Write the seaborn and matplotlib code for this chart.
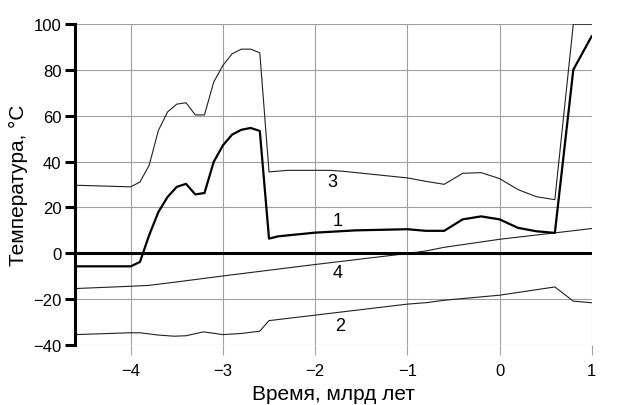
import matplotlib
matplotlib.use("Agg")
import matplotlib.pyplot as plt
import pandas as pd
import seaborn as sns

# Curve 1 (thick)
x1 = [-4.6, -4.0, -3.9, -3.8, -3.7, -3.6, -3.5, -3.4, -3.3, -3.2, -3.1, -3.0,
      -2.9, -2.8, -2.7, -2.6, -2.5, -2.4, -2.0, -1.56, -1.0, -0.8, -0.6,
      -0.4, -0.2, 0.0, 0.2, 0.4, 0.6, 0.8, 1.0]
y1 = [-5.7, -5.7, -3.8, 7.9, 18.0, 24.6, 29.0, 30.3, 25.7, 26.3, 39.9, 47.1,
      51.8, 53.9, 54.7, 53.4, 6.4, 7.4, 9.0, 10.0, 10.5, 9.8, 9.8,
      14.8, 16.1, 14.8, 11.1, 9.6, 8.9, 80.1, 94.8]

# Curve 3 (thin, upper)
x3 = [-4.6, -4.0, -3.9, -3.8, -3.7, -3.6, -3.5, -3.4, -3.3, -3.2, -3.1, -3.0,
      -2.9, -2.8, -2.7, -2.6, -2.5, -2.3, -1.84, -1.7, -1.0, -0.8, -0.6,
      -0.4, -0.2, 0.0, 0.2, 0.4, 0.6, 0.8, 1.0]
y3 = [29.7, 29.0, 31.1, 38.4, 53.6, 61.7, 65.1, 65.7, 60.4, 60.4, 74.7, 82.0,
      87.1, 89.1, 89.1, 87.5, 35.5, 36.2, 36.2, 35.8, 32.9, 31.4, 30.1,
      34.9, 35.2, 32.6, 27.8, 24.7, 23.4, 100.0, 100.0]

# Curve 4 (thin, rising)
x4 = [-4.6, -4.0, -3.8, -3.5, -3.0, -2.5, -2.0, -1.0, -0.8, -0.6, 0.0, 0.6, 1.0]
y4 = [-15.4, -14.4, -14.0, -12.5, -9.9, -7.4, -4.9, -0.1, 1.0, 2.6, 6.1, 8.9, 10.8]

# Curve 2 (thin, bottom)
x2 = [-4.6, -4.0, -3.9, -3.7, -3.53, -3.4, -3.21, -3.0, -2.8, -2.6, -2.5,
      -2.0, -1.0, -0.78, -0.6, 0.0, 0.6, 0.8, 1.0]
y2 = [-35.5, -34.7, -34.7, -35.7, -36.2, -36.0, -34.3, -35.5, -35.0, -34.0, -29.4,
      -27.0, -22.2, -21.5, -20.5, -18.3, -14.7, -20.9, -21.6]

curve_labels = ["1", "2", "3", "4"]
label_x = [-1.76, -1.73, -1.81, -1.76]
label_y = [14.4, -31.4, 31.4, -8.4]

sns.set_style("white", {"xtick.bottom": True, "ytick.left": True,
                        "text.color": "black", "axes.labelcolor": "black",
                        "xtick.color": "black", "ytick.color": "black"})
plt.rcParams["font.family"] = ["Liberation Sans", "DejaVu Sans"]

fig, ax = plt.subplots(figsize=(6.18, 4.06), dpi=100)
fig.subplots_adjust(left=0.122, right=0.9575, top=0.938, bottom=0.148)

grid_col = "#a0a0a0"
ax.grid(True, color=grid_col, linewidth=0.8)
ax.set_axisbelow(True)

sns.lineplot(x=x3, y=y3, ax=ax, color="#202020", linewidth=0.8, sort=False)
sns.lineplot(x=x4, y=y4, ax=ax, color="#202020", linewidth=0.8, sort=False)
sns.lineplot(x=x2, y=y2, ax=ax, color="#202020", linewidth=0.8, sort=False)
sns.lineplot(x=x1, y=y1, ax=ax, color="black", linewidth=1.6, sort=False)
ax.axhline(0, color="black", linewidth=2.2, zorder=3)

for lab, lx, ly in zip(curve_labels, label_x, label_y):
    ax.text(lx, ly, lab, fontsize=13, ha="center", va="center", color="black")

ax.set_xlim(-4.6, 1.0)
ax.set_ylim(-40, 100)
ax.set_xticks([-4, -3, -2, -1, 0, 1])
ax.set_yticks([-40, -20, 0, 20, 40, 60, 80, 100])

for side in ["top", "right", "bottom"]:
    ax.spines[side].set_visible(False)
ax.spines["left"].set_color("black")
ax.spines["left"].set_linewidth(2.2)

ax.tick_params(axis="y", direction="out", length=7, width=2.2, color="black",
               labelcolor="black", labelsize=12, pad=3)
ax.tick_params(axis="x", direction="out", length=7, width=0.8, color=grid_col,
               labelcolor="black", labelsize=12, pad=6)

ax.set_xlabel("Время, млрд лет", fontsize=15, labelpad=4, color="black")
ax.set_ylabel("Температура, °C", fontsize=15, labelpad=4, color="black")

fig.savefig("out.png", dpi=100)
